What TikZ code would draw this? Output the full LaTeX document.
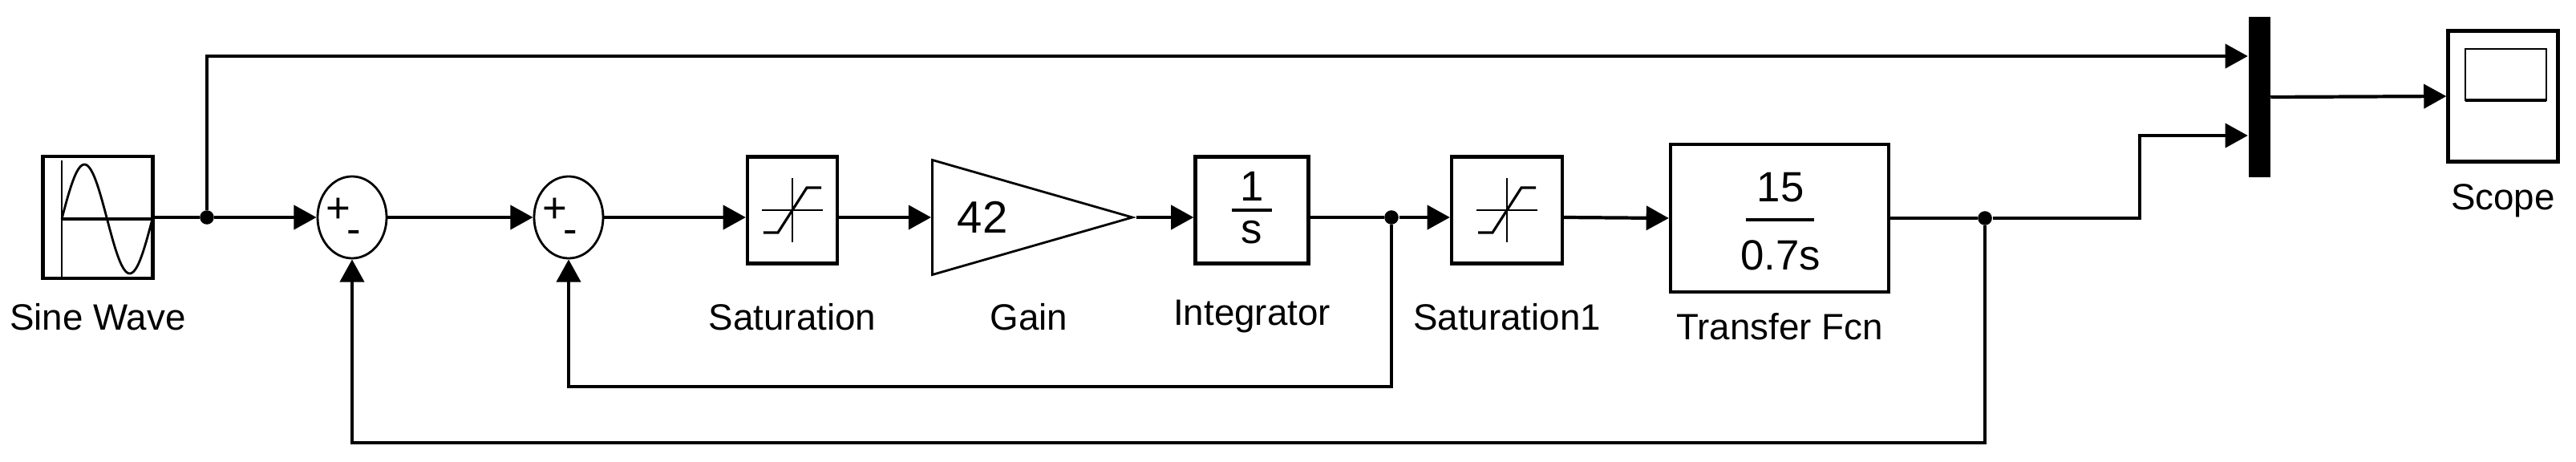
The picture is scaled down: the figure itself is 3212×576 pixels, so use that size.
\documentclass[tikz,border=0pt]{standalone}
\usepackage{fontspec}
\setmainfont{Liberation Sans}
\usetikzlibrary{arrows.meta,shapes.geometric}
\begin{document}
\begin{tikzpicture}[x=0.01cm,y=-0.01cm,
  blk/.style={draw,line width=1.2pt,inner sep=0pt},
  sig/.style={line width=1.2pt,-{Triangle[length=8pt,width=8.5pt]}},
  ln/.style={line width=1.2pt},
  lab/.style={font=\fontsize{13}{15}\selectfont},
  dot/.style={circle,fill,inner sep=0pt,minimum size=5pt}]
\useasboundingbox (0,0) rectangle (3212,576);
% blocks
\node[blk,minimum width=1.37cm,minimum height=1.52cm] (sine) at (122,271) {};
\node[blk,ellipse,line width=0.8pt,minimum width=0.86cm,minimum height=1.02cm] (s1) at (439,271) {};
\node[blk,ellipse,line width=0.8pt,minimum width=0.86cm,minimum height=1.02cm] (s2) at (709,271) {};
\node[blk,minimum width=1.12cm,minimum height=1.33cm] (sat) at (988,262) {};
\node[blk,isosceles triangle,isosceles triangle apex angle=32,line width=0.8pt,minimum width=1.43cm,minimum height=2.44cm,anchor=west] (gain) at (1161,271) {};
\node[blk,minimum width=1.41cm,minimum height=1.33cm] (int) at (1561,262) {};
\node[blk,minimum width=1.38cm,minimum height=1.33cm] (sat1) at (1879,262) {};
\node[blk,minimum width=2.72cm,minimum height=1.84cm] (tf) at (2219,272) {};
\node[fill,minimum width=0.27cm,minimum height=1.99cm,inner sep=0pt] (mux) at (2817,121) {};
\node[blk,minimum width=1.37cm,minimum height=1.63cm] (scope) at (3121,120) {};
% inner content
\draw[line width=0.8pt] (77,200) -- (77,345);
\draw[ln] (77,273) -- (190,273);
\draw[line width=0.8pt,domain=0:1,samples=60,smooth] plot ({77+113*\x},{273-68*sin(360*\x)});
\node[font=\fontsize{15}{16}\selectfont] at (422,262) {+};
\node[font=\fontsize{15}{16}\selectfont] at (441,295) {-};
\node[font=\fontsize{15}{16}\selectfont] at (692,262) {+};
\node[font=\fontsize{15}{16}\selectfont] at (711,295) {-};
\foreach \c in {sat,sat1}{
  \draw[line width=0.6pt] ([xshift=-0.38cm]\c.center) -- ([xshift=0.38cm]\c.center);
  \draw[line width=0.6pt] ([yshift=-0.4cm]\c.center) -- ([yshift=0.4cm]\c.center);
  \draw[line width=0.9pt] ([shift={(-0.36cm,-0.28cm)}]\c.center) -- ([shift={(-0.18cm,-0.28cm)}]\c.center) -- ([shift={(0.18cm,0.28cm)}]\c.center) -- ([shift={(0.36cm,0.28cm)}]\c.center);
}
\node[font=\fontsize{16}{18}\selectfont] at (1225,271) {42};
\node[font=\fontsize{15}{17}\selectfont] at (1561,232) {1};
\draw[ln] (1536,262) -- (1586,262);
\node[font=\fontsize{15}{17}\selectfont] at (1561,290) {s};
\node[font=\fontsize{15}{17}\selectfont] at (2220,234) {15};
\draw[ln] (2177,274) -- (2262,274);
\node[font=\fontsize{15}{17}\selectfont] at (2220,318) {0.7s};
\draw[line width=0.8pt] (3074,61) rectangle (3175,125);
\draw[ln] (3074,125) -- (3175,125);
% labels
\node[lab] (lsine) at (122,395) {Sine Wave};
\node[lab] (lsat) at (988,395) {Saturation};
\node[lab] (lgain) at (1283,395) {Gain};
\node[lab] (lint) at (1561,395) {Integrator};
\node[lab] (lsat1) at (1879,395) {Saturation1};
\node[lab] (ltf) at (2219,407) {Transfer Fcn};
\node[lab] (lsc) at (3121,250) {Scope};
% junctions
\node[dot] (j1) at (258,271) {};
\node[dot] (j2) at (1735,271) {};
\node[dot] (j3) at (2475,272) {};
\coordinate (m1) at (mux.west |- 0,70);
\coordinate (m2) at (mux.west |- 0,169);
% connectors
\draw[ln] (sine.east) -- (j1);
\draw[sig] (j1) -- (s1.west);
\draw[sig] (j1) |- (m1);
\draw[sig] (s1.east) -- (s2.west);
\draw[sig] (s2.east) -- (sat.west |- s2.east);
\draw[sig] (sat.east |- s2.east) -- (gain.west);
\draw[sig] (gain.apex) -- (int.west |- gain.apex);
\draw[ln] (int.east |- j2) -- (j2);
\draw[sig] (j2) -- (sat1.west |- j2);
\draw[sig] (sat1.east |- j2) -- (tf.west);
\draw[ln] (tf.east) -- (j3);
\draw[sig] (j3) -- (2668,272) |- (m2);
\draw[sig] (j2) -- (1735,482) -| (s2.south);
\draw[sig] (j3) -- (2475,552) -| (s1.south);
\draw[sig] (mux.east) -- (scope.west);
\end{tikzpicture}
\end{document}
